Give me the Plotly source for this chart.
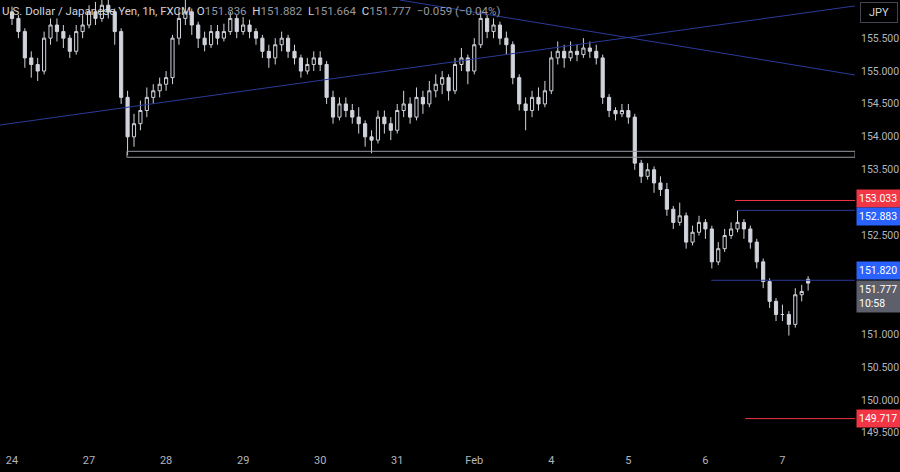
import plotly.graph_objects as go

day_labels = ['24', '27', '28', '29', '30', '31', 'Feb', '4', '5', '6', '7']
day_start_idx = [0, 12, 24, 36, 48, 60, 72, 84, 96, 108, 120]

opens = [155.9,155.8,155.6,155.2,155.1,155.0,155.5,155.7,155.6,155.5,155.3,155.6,155.7,155.9,155.8,156.0,155.9,155.6,154.6,154.0,
         154.2,154.4,154.6,154.7,154.8,154.9,155.5,155.8,155.9,155.7,155.5,155.4,155.6,155.5,155.6,155.8,155.6,155.7,155.6,155.5,
         155.3,155.2,155.4,155.5,155.3,155.2,155.0,155.1,155.2,155.1,154.6,154.3,154.5,154.4,154.3,154.2,154.0,153.95,154.3,154.2,
         154.1,154.4,154.5,154.3,154.6,154.5,154.7,154.8,154.9,154.7,155.1,155.2,155.0,155.4,155.8,155.6,155.7,155.5,155.4,154.9,
         154.5,154.4,154.6,154.5,154.7,155.2,155.3,155.2,155.3,155.25,155.35,155.3,155.2,154.6,154.4,154.35,154.4,154.3,153.6,153.4,
         153.5,153.3,153.2,152.9,152.7,152.8,152.4,152.55,152.7,152.6,152.1,152.3,152.5,152.6,152.7,152.6,152.4,152.1,151.8,151.5,
         151.3,151.3,151.15,151.6,151.836]
closes = [155.8,155.6,155.2,155.1,155.0,155.5,155.7,155.6,155.5,155.3,155.6,155.7,155.9,155.8,156.0,155.9,155.6,154.6,154.0,154.2,
          154.4,154.6,154.7,154.8,154.9,155.5,155.8,155.9,155.7,155.5,155.4,155.6,155.5,155.6,155.8,155.6,155.7,155.6,155.5,155.3,
          155.2,155.4,155.5,155.3,155.2,155.0,155.1,155.2,155.1,154.6,154.3,154.5,154.4,154.3,154.2,154.0,153.95,154.3,154.2,154.1,
          154.4,154.5,154.3,154.6,154.5,154.7,154.8,154.9,154.7,155.1,155.2,155.0,155.4,155.8,155.6,155.7,155.5,155.4,154.9,154.5,
          154.4,154.6,154.5,154.7,155.2,155.3,155.2,155.3,155.25,155.35,155.3,155.2,154.6,154.4,154.35,154.4,154.3,153.6,153.4,153.5,
          153.3,153.2,152.9,152.7,152.8,152.4,152.55,152.7,152.6,152.1,152.3,152.5,152.6,152.7,152.6,152.4,152.1,151.8,151.5,151.3,
          151.3,151.15,151.6,151.65,151.777]
highs = [155.98,155.85,155.65,155.3,155.2,155.6,155.8,155.8,155.7,155.55,155.7,155.85,156.0,156.05,156.1,156.1,155.95,155.65,154.7,154.35,
         154.55,154.75,154.8,154.9,155.0,155.55,155.95,156.08,155.95,155.75,155.6,155.7,155.7,155.72,155.9,155.85,155.82,155.78,155.65,155.55,
         155.4,155.5,155.6,155.55,155.4,155.25,155.2,155.3,155.3,155.15,154.7,154.6,154.6,154.5,154.45,154.25,154.1,154.4,154.4,154.3,
         154.5,154.7,154.6,154.75,154.7,154.85,154.95,155.0,154.95,155.2,155.35,155.25,155.5,155.92,155.85,155.8,155.75,155.6,155.45,154.95,
         154.6,154.7,154.75,154.85,155.3,155.45,155.4,155.45,155.4,155.5,155.45,155.4,155.25,154.65,154.45,154.5,154.5,154.35,153.65,153.6,
         153.55,153.4,153.3,152.95,153.0,152.85,152.65,152.8,152.75,152.65,152.4,152.6,152.7,152.88,152.75,152.65,152.45,152.15,151.85,151.55,
         151.45,151.35,151.7,151.75,151.882]
lows = [155.7,155.5,155.05,154.9,154.85,154.95,155.4,155.45,155.35,155.2,155.25,155.5,155.65,155.7,155.75,155.8,155.4,154.5,153.72,153.85,
        154.1,154.3,154.5,154.6,154.7,154.8,155.4,155.7,155.55,155.35,155.3,155.35,155.4,155.45,155.55,155.5,155.55,155.5,155.4,155.2,
        155.05,155.1,155.3,155.2,155.1,154.9,154.95,155.0,155.0,154.5,154.2,154.25,154.3,154.2,154.05,153.85,153.75,153.9,154.05,153.95,
        154.05,154.3,154.2,154.25,154.35,154.45,154.6,154.65,154.55,154.65,155.0,154.8,154.95,155.35,155.5,155.5,155.4,155.25,154.8,154.4,
        154.1,154.3,154.4,154.45,154.65,155.1,155.05,155.15,155.15,155.2,155.2,155.1,154.5,154.3,154.25,154.3,154.2,153.5,153.3,153.35,
        153.15,153.1,152.8,152.6,152.65,152.3,152.35,152.5,152.45,152.0,152.05,152.25,152.45,152.55,152.45,152.3,152.0,151.7,151.4,151.2,
        151.2,150.98,151.1,151.5,151.664]

yticks = [149.5, 150.0, 150.5, 151.0, 152.5, 153.5, 154.0, 154.5, 155.0, 155.5]
level_prices = [153.033, 152.883, 151.820, 149.717]
level_colors = ['#f23645', '#2962ff', '#2962ff', '#f23645']
level_starts = [112.6, 113, 108.9, 114.2]
level_label_shift = [2, -6, 10, 0]
zone = [153.69, 153.78, 17.9]
asc_line = [(-1.87, 154.18), (131.3, 155.99)]
desc_line = [(60.4, 156.08), (131.3, 154.94)]
last_price = 151.777

XR = [-1.87, 131.3]
YR = [149.21, 156.08]
idx = list(range(len(closes)))

fig = go.Figure(go.Candlestick(
    x=idx, open=opens, high=highs, low=lows, close=closes,
    increasing=dict(line=dict(color='#d1d4dc', width=1), fillcolor='#000000'),
    decreasing=dict(line=dict(color='#d1d4dc', width=1), fillcolor='#d1d4dc'),
    whiskerwidth=0, showlegend=False, hoverinfo='skip'))

shapes = []
for (x0, y0), (x1, y1) in [asc_line, desc_line]:
    shapes.append(dict(type='line', x0=x0, y0=y0, x1=x1, y1=y1, line=dict(color='#2a3a9a', width=1)))
shapes.append(dict(type='rect', x0=zone[2], x1=XR[1], y0=zone[0], y1=zone[1],
                   line=dict(color='#9598a1', width=1)))
for p, c, s in zip(level_prices, level_colors, level_starts):
    shapes.append(dict(type='line', x0=s, x1=XR[1], y0=p, y1=p,
                       line=dict(color=c if c != '#2962ff' else '#2a3a9a', width=1)))

ann = []
for t in yticks:
    ann.append(dict(x=1, xref='paper', xanchor='left', xshift=4, y=t, yref='y', text=f'{t:.3f}',
                    showarrow=False, font=dict(color='#b2b5be', size=10.5, family='Roboto')))
for p, c, sh in zip(level_prices, level_colors, level_label_shift):
    ann.append(dict(x=1, xref='paper', xanchor='left', xshift=1, y=p, yref='y', yshift=sh, text=f'{p:.3f}',
                    showarrow=False, bgcolor=c, borderpad=2, width=40, align='left',
                    font=dict(color='white', size=10.5, family='Roboto')))
ann.append(dict(x=1, xref='paper', xanchor='left', xshift=1, y=last_price, yref='y', yanchor='top', yshift=3,
                text=f'{last_price:.3f}<br>10:58', align='left', showarrow=False, bgcolor='#5d606b', borderpad=2, width=40,
                font=dict(color='white', size=10.5, family='Roboto')))
ann.append(dict(x=0.0, xref='paper', xanchor='left', y=1, yref='paper', yanchor='top', yshift=-2,
                text='U.S. Dollar / Japanese Yen, 1h, FXCM  O<span style="color:#9598a1">151.836</span>  '
                     'H<span style="color:#9598a1">151.882</span>  L<span style="color:#9598a1">151.664</span>  '
                     'C<span style="color:#9598a1">151.777</span>  <span style="color:#9598a1">−0.059 (−0.04%)</span>',
                showarrow=False, font=dict(color='#d1d4dc', size=11.5, family='Roboto')))
ann.append(dict(x=1, xref='paper', xanchor='left', xshift=5, y=1, yref='paper', yanchor='top', yshift=-2,
                text='JPY', showarrow=False, bordercolor='#434651', borderwidth=1, borderpad=3, width=30,
                font=dict(color='#d1d4dc', size=11, family='Roboto')))

fig.update_layout(
    width=900, height=472, margin=dict(l=0, r=45, t=0, b=20),
    paper_bgcolor='#000000', plot_bgcolor='#000000',
    shapes=shapes, annotations=ann,
    xaxis=dict(range=XR, rangeslider=dict(visible=False), showgrid=False, zeroline=False,
               tickmode='array', tickvals=day_start_idx, ticktext=day_labels, ticks='',
               tickfont=dict(color='#b2b5be', size=11, family='Roboto')),
    yaxis=dict(range=YR, showgrid=False, zeroline=False, showticklabels=False),
)
fig.write_html('out.html', config={'displayModeBar': False})
with open('out.html', encoding='utf-8') as f:
    html = f.read()
html = html.replace('<head>', '<head><style>html,body{margin:0;padding:0;background:#000;overflow:hidden}</style>', 1)
with open('out.html', 'w', encoding='utf-8') as f:
    f.write(html)
